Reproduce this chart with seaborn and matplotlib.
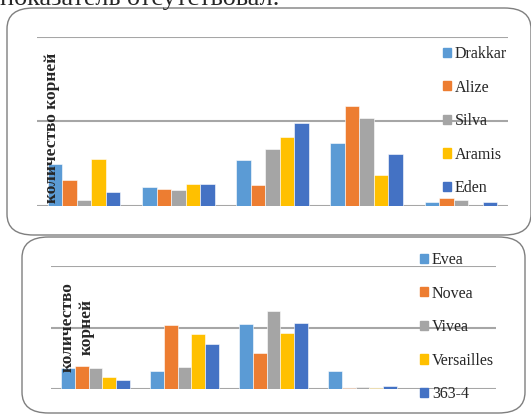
import pandas as pd
import seaborn as sns
import matplotlib.pyplot as plt
from matplotlib.patches import FancyBboxPatch

# data (gridlines taken as 10 and 20)
groups = ['1', '2', '3', '4', '5']

top_varieties = ['Drakkar', 'Alize', 'Silva', 'Aramis', 'Eden']
drakkar = [5.0, 2.3, 5.5, 7.5, 0.5]
alize = [3.1, 2.0, 2.5, 11.8, 1.0]
silva = [0.7, 1.9, 6.8, 10.4, 0.7]
aramis = [5.6, 2.6, 8.2, 3.7, 0.0]
eden = [1.7, 2.6, 9.8, 6.1, 0.5]

bottom_varieties = ['Evea', 'Novea', 'Vivea', 'Versailles', '363-4']
evea = [3.4, 2.9, 10.6, 2.9, 0.0]
novea = [3.7, 10.4, 5.9, 0.2, 0.0]
vivea = [3.4, 3.6, 12.7, 0.4, 0.0]
versailles = [2.0, 8.9, 9.1, 0.2, 0.0]
v363 = [1.5, 7.3, 10.7, 0.5, 0.0]

colors = ['#5B9BD5', '#ED7D31', '#A5A5A5', '#FFC000', '#4472C4']


def make_df(names, series):
    rows = []
    for name, vals in zip(names, series):
        for g, v in zip(groups, vals):
            rows.append({'group': g, 'variety': name, 'value': v})
    return pd.DataFrame(rows)


df_top = make_df(top_varieties, [drakkar, alize, silva, aramis, eden])
df_bot = make_df(bottom_varieties, [evea, novea, vivea, versailles, v363])

sns.set_style('white')
plt.rcParams['font.family'] = ['Liberation Serif', 'DejaVu Serif']

W, H = 531, 416
fig = plt.figure(figsize=(W / 100, H / 100), dpi=100)


def px_box(x0, y0, x1, y1):
    return [x0 / W, 1 - y1 / H, (x1 - x0) / W, (y1 - y0) / H]


# rounded frames around the two charts
for (x0, y0, x1, y1) in [(7, 8, 531, 235), (22, 237, 525, 413)]:
    fig.patches.append(FancyBboxPatch(
        (x0 / W, 1 - y1 / H), (x1 - x0) / W, (y1 - y0) / H,
        boxstyle='round,pad=0,rounding_size=0.05', transform=fig.transFigure,
        facecolor='none', edgecolor='#7f7f7f', linewidth=1.0))

# document text cut off at the top edge, as in the screenshot
fig.text(0.0, 1 - 4.5 / H, 'показатель отсутствовал.', fontsize=18.8,
         ha='left', va='baseline')

ax1 = fig.add_axes(px_box(37, 37, 508, 206))
ax2 = fig.add_axes(px_box(51, 266, 496, 389))

for ax, df, names in [(ax1, df_top, top_varieties), (ax2, df_bot, bottom_varieties)]:
    sns.barplot(data=df, x='group', y='value', hue='variety', hue_order=names,
                palette=colors, saturation=1, width=0.77, ax=ax, legend=False,
                edgecolor='white', linewidth=0.4)
    ax.set_ylim(0, 20)
    ax.set_yticks([0, 10, 20])
    ax.set_xlim(-0.5, 4.5)
    ax.set_xticks([])
    ax.set_yticklabels([])
    ax.tick_params(left=False, bottom=False)
    ax.set_xlabel('')
    ax.set_ylabel('')
    for s in ax.spines.values():
        s.set_visible(False)
    ax.grid(axis='y', color='#a6a6a6', linewidth=1.5)
    ax.set_axisbelow(True)
    ax.patch.set_alpha(0)

ax1.text(52 / W, 1 - 128 / H, 'количество корней', transform=fig.transFigure,
         rotation=90, ha='center', va='center', fontsize=12.5, fontweight='bold')
ax2.text(77 / W, 1 - 327 / H, 'количество\nкорней', transform=fig.transFigure,
         rotation=90, ha='center', va='center', fontsize=12.5, fontweight='bold',
         linespacing=1.3)

# legends on the right side
for ax, names, (lx, ly) in [(ax1, top_varieties, (443, 46)), (ax2, bottom_varieties, (420, 252))]:
    handles = [plt.Rectangle((0, 0), 1, 1, color=c) for c in colors]
    fig.legend(handles, names, loc='upper left', bbox_to_anchor=(lx / W, 1 - ly / H),
               frameon=False, fontsize=11.5, borderpad=0, borderaxespad=0,
               handlelength=0.5, handleheight=0.5, handletextpad=0.25,
               labelspacing=1.1)

fig.savefig('out.png', dpi=100)
